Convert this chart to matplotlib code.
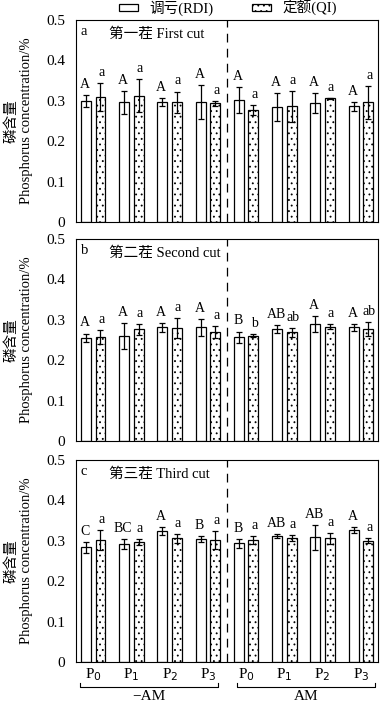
import matplotlib.pyplot as plt
import numpy as np
from matplotlib.patches import Patch

plt.rcParams['font.family'] = ['Liberation Serif', 'Noto Sans CJK SC']
plt.rcParams['hatch.linewidth'] = 0.6

# 数据
groups = ['P$_0$', 'P$_1$', 'P$_2$', 'P$_3$', 'P$_0$', 'P$_1$', 'P$_2$', 'P$_3$']
titles = ['第一茬 First cut', '第二茬 Second cut', '第三茬 Third cut']
panel_tags = ['a', 'b', 'c']
am_labels = ['−AM', 'AM']

rdi_1 = [0.300, 0.296, 0.298, 0.298, 0.302, 0.284, 0.294, 0.286]
rdi_1_err = [0.015, 0.028, 0.010, 0.042, 0.033, 0.035, 0.025, 0.012]
qi_1 = [0.310, 0.313, 0.296, 0.294, 0.278, 0.286, 0.306, 0.296]
qi_1_err = [0.035, 0.040, 0.027, 0.006, 0.012, 0.038, 0.002, 0.040]
rdi_1_lab = ['A', 'A', 'A', 'A', 'A', 'A', 'A', 'A']
qi_1_lab = ['a', 'a', 'a', 'a', 'a', 'a', 'a', 'a']

rdi_2 = [0.255, 0.259, 0.281, 0.281, 0.257, 0.277, 0.290, 0.281]
rdi_2_err = [0.011, 0.032, 0.011, 0.020, 0.014, 0.009, 0.020, 0.008]
qi_2 = [0.257, 0.276, 0.280, 0.269, 0.261, 0.269, 0.283, 0.278]
qi_2_err = [0.017, 0.014, 0.025, 0.015, 0.004, 0.011, 0.007, 0.017]
rdi_2_lab = ['A', 'A', 'A', 'A', 'B', 'AB', 'A', 'A']
qi_2_lab = ['a', 'a', 'a', 'a', 'b', 'ab', 'a', 'ab']

rdi_3 = [0.284, 0.292, 0.324, 0.304, 0.294, 0.312, 0.309, 0.327]
rdi_3_err = [0.014, 0.012, 0.009, 0.007, 0.011, 0.004, 0.031, 0.007]
qi_3 = [0.302, 0.297, 0.306, 0.302, 0.302, 0.307, 0.306, 0.300]
qi_3_err = [0.024, 0.007, 0.011, 0.023, 0.010, 0.007, 0.013, 0.006]
rdi_3_lab = ['C', 'BC', 'A', 'B', 'B', 'AB', 'AB', 'A']
qi_3_lab = ['a', 'a', 'a', 'a', 'a', 'a', 'a', 'a']

rdi = [rdi_1, rdi_2, rdi_3]
rdi_err = [rdi_1_err, rdi_2_err, rdi_3_err]
qi = [qi_1, qi_2, qi_3]
qi_err = [qi_1_err, qi_2_err, qi_3_err]
rdi_lab = [rdi_1_lab, rdi_2_lab, rdi_3_lab]
qi_lab = [qi_1_lab, qi_2_lab, qi_3_lab]

x = np.arange(len(groups))
w = 0.26
off = 0.19

fig = plt.figure(figsize=(3.8, 7.05), dpi=100)
tops = [0.9716, 0.661, 0.3475]
h = 0.2865
ek = dict(elinewidth=0.9, capthick=0.9)

for i in range(3):
    ax = fig.add_axes([0.2, tops[i] - h, 0.795, h])
    ax.bar(x - off, rdi[i], w, yerr=rdi_err[i], color='white', edgecolor='black',
           linewidth=0.9, capsize=2.5, error_kw=ek)
    ax.bar(x + off, qi[i], w, yerr=qi_err[i], color='white', edgecolor='black',
           hatch='...', linewidth=0.9, capsize=2.5, error_kw=ek)
    for j in range(len(x)):
        ax.text(x[j] - off - 0.03, rdi[i][j] + rdi_err[i][j] + 0.01, rdi_lab[i][j],
                ha='center', va='bottom', fontsize=10)
        ax.text(x[j] + off + 0.03, qi[i][j] + qi_err[i][j] + 0.01, qi_lab[i][j],
                ha='center', va='bottom', fontsize=10)
    ax.axvline(3.5, color='black', linewidth=0.9, linestyle=(0, (7, 5)))
    ax.set_xlim(-0.45, 7.45)
    ax.set_ylim(0, 0.5)
    ax.set_yticks([0, 0.1, 0.2, 0.3, 0.4, 0.5])
    ax.set_yticklabels(['0', '0.1', '0.2', '0.3', '0.4', '0.5'], fontsize=11)
    ax.tick_params(axis='y', length=0, pad=8)
    ax.text(0.015, 0.975, panel_tags[i], transform=ax.transAxes, ha='left', va='top', fontsize=10.5)
    ax.text(0.11, 0.96, titles[i], transform=ax.transAxes, ha='left', va='top', fontsize=10.5)
    ax.set_ylabel('磷含量\nPhosphorus concentration/%', fontsize=10.5, labelpad=9)
    if i < 2:
        ax.set_xticks([])
    else:
        ax.set_xticks(x)
        ax.set_xticklabels(groups, fontsize=11)
        ax.tick_params(axis='x', length=0, pad=3)
        # 分组括号
        spans = [(x[0] - 0.34, x[3] + 0.26), (x[4] - 0.24, x[7] + 0.36)]
        for (x0, x1), lab in zip(spans, am_labels):
            ax.plot([x0, x0, x1, x1], [-0.052, -0.062, -0.062, -0.052],
                    color='black', linewidth=0.8, clip_on=False)
            ax.text((x0 + x1) / 2, -0.086, lab, ha='center', va='center', fontsize=11)

handles = [Patch(facecolor='white', edgecolor='black', linewidth=0.9, label='调亏(RDI)'),
           Patch(facecolor='white', edgecolor='black', linewidth=0.9, hatch='...', label='定额(QI)')]
fig.legend(handles=handles, loc='center', bbox_to_anchor=(0.60, 0.989), ncol=2, frameon=False,
           fontsize=10.5, handlelength=1.3, handleheight=0.4, handletextpad=0.8,
           columnspacing=2.6, borderaxespad=0, borderpad=0)

fig.savefig('out.png', dpi=100)
